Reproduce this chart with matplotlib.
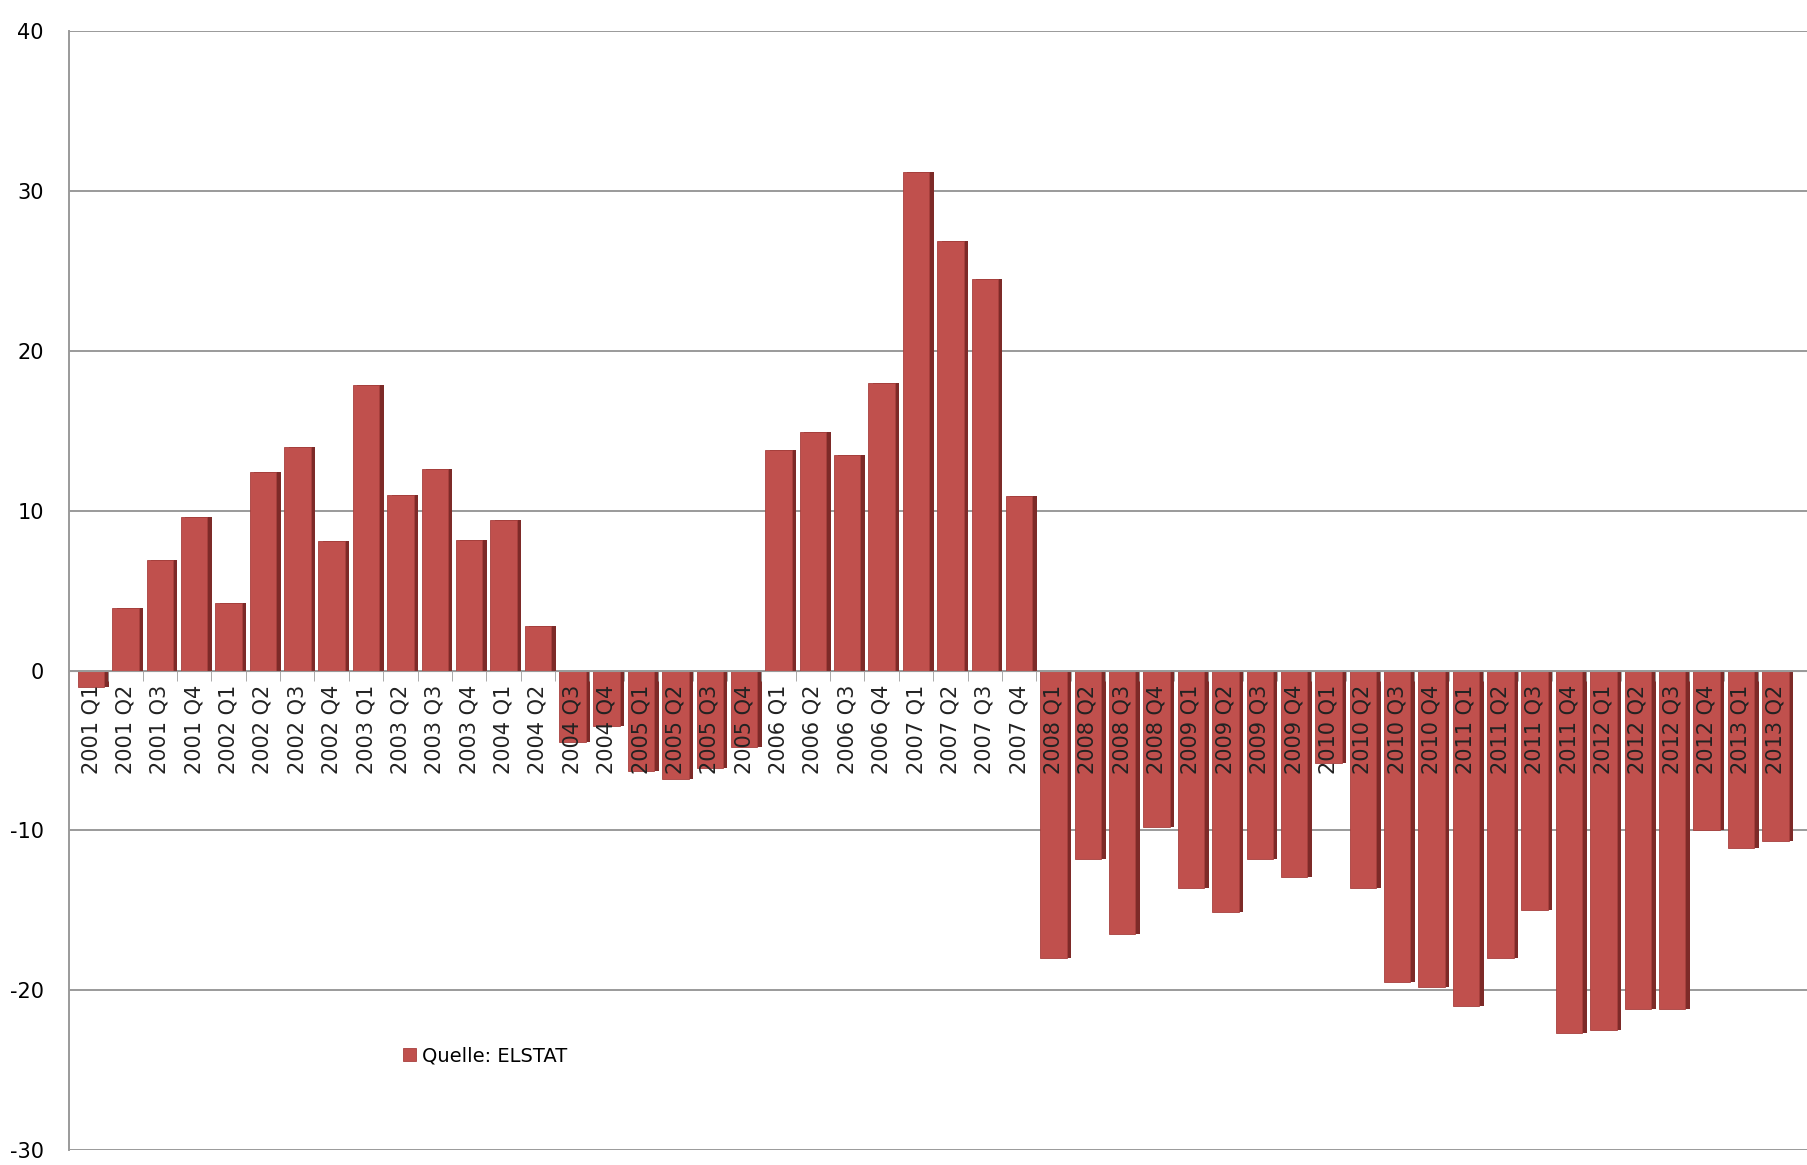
import matplotlib.pyplot as plt
import numpy as np

plt.rcParams["axes.unicode_minus"] = False

quarters = ["2001 Q1", "2001 Q2", "2001 Q3", "2001 Q4",
            "2002 Q1", "2002 Q2", "2002 Q3", "2002 Q4",
            "2003 Q1", "2003 Q2", "2003 Q3", "2003 Q4",
            "2004 Q1", "2004 Q2", "2004 Q3", "2004 Q4",
            "2005 Q1", "2005 Q2", "2005 Q3", "2005 Q4",
            "2006 Q1", "2006 Q2", "2006 Q3", "2006 Q4",
            "2007 Q1", "2007 Q2", "2007 Q3", "2007 Q4",
            "2008 Q1", "2008 Q2", "2008 Q3", "2008 Q4",
            "2009 Q1", "2009 Q2", "2009 Q3", "2009 Q4",
            "2010 Q1", "2010 Q2", "2010 Q3", "2010 Q4",
            "2011 Q1", "2011 Q2", "2011 Q3", "2011 Q4",
            "2012 Q1", "2012 Q2", "2012 Q3", "2012 Q4",
            "2013 Q1", "2013 Q2"]
werte = [-1.0, 3.9, 6.9, 9.6,
         4.2, 12.4, 14.0, 8.1,
         17.9, 11.0, 12.6, 8.2,
         9.4, 2.8, -4.5, -3.5,
         -6.3, -6.8, -6.1, -4.8,
         13.8, 14.9, 13.5, 18.0,
         31.2, 26.9, 24.5, 10.9,
         -18.0, -11.8, -16.5, -9.8,
         -13.6, -15.1, -11.8, -12.9,
         -5.8, -13.6, -19.5, -19.8,
         -21.0, -18.0, -15.0, -22.7,
         -22.5, -21.2, -21.2, -10.0,
         -11.1, -10.7]

x = np.arange(len(quarters))
rot = "#c0504d"
dunkel = "#7d2a28"
grau = "#9a9a9a"

fig = plt.figure(figsize=(18.08, 11.65), dpi=100)
ax = fig.add_axes([0.038, 0.013, 0.962, 0.96])

# Gitterlinien hinter den Balken
for yv in np.arange(-30, 41, 10):
    ax.axhline(yv, color=grau, linewidth=1.4, zorder=0)

# dunkle Seitenfläche etwas nach rechts versetzt (3D-Effekt)
ax.bar(x + 0.13, werte, width=0.77, color=dunkel, zorder=1)
ax.bar(x, werte, width=0.77, color=rot, edgecolor="#a8403d", linewidth=0.6,
       zorder=1.5, label="Quelle: ELSTAT")

ax.set_ylim(-30, 40)
ax.set_xlim(-0.65, len(quarters) - 0.05)
ax.set_yticks(np.arange(-30, 41, 10))

ax.spines["top"].set_visible(False)
ax.spines["right"].set_visible(False)
ax.spines["bottom"].set_position(("data", 0))
ax.spines["bottom"].set_color(grau)
ax.spines["left"].set_color(grau)
ax.spines["left"].set_linewidth(1.4)

ax.set_xticks(x)
ax.set_xticklabels(quarters, rotation=90, fontsize=15, color="#222222")
ax.set_xticks(x[1:] - 0.5, minor=True)
ax.tick_params(axis="x", which="major", length=0, pad=10)
ax.tick_params(axis="x", which="minor", length=7, color=grau)
ax.tick_params(axis="y", length=0, labelsize=15, pad=18)

ax.legend(loc="center left", bbox_to_anchor=(0.182, 0.084), frameon=False,
          fontsize=14, handlelength=0.7, handleheight=0.7, handletextpad=0.3)

plt.savefig("out.png", dpi=100)
